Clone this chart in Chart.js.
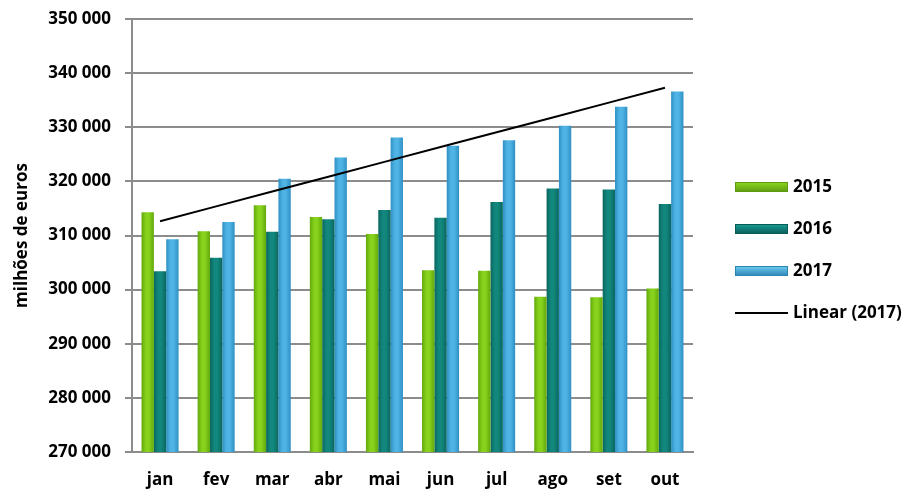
<!DOCTYPE html>
<html>
<head>
<meta charset="utf-8">
<script src="https://cdn.jsdelivr.net/npm/chart.js@4.4.1/dist/chart.umd.min.js"></script>
<style>
  body { margin: 0; background: #fff; }
</style>
</head>
<body>
<canvas id="myChart" width="912" height="491"></canvas>
<script>
var months = ['jan', 'fev', 'mar', 'abr', 'mai', 'jun', 'jul', 'ago', 'set', 'out'];
var v2015 = [314300, 310800, 315600, 313400, 310300, 303600, 303500, 298700, 298600, 300200];
var v2016 = [303400, 305900, 310700, 313000, 314700, 313300, 316200, 318700, 318500, 315800];
var v2017 = [309300, 312500, 320500, 324400, 328100, 326600, 327600, 330300, 333800, 336600];
var yMin = 270000, yMax = 350000, yStep = 10000;

var catPct = 0.66;

// least squares trend of the 2017 series, like Excel's "Linear (2017)"
function linearTrend(vals) {
    var n = vals.length, sx = 0, sy = 0, sxy = 0, sxx = 0;
    vals.forEach(function (v, i) { sx += i; sy += v; sxy += i * v; sxx += i * i; });
    var b = (n * sxy - sx * sy) / (n * sxx - sx * sx);
    var a = (sy - b * sx) / n;
    return vals.map(function (v, i) { return a + b * i; });
}

function fmt(v) {
    return String(v).replace(/\B(?=(\d{3})+(?!\d))/g, ' ');
}

// horizontal shading on each bar (edges darker, middle lighter)
function shade(edge, mid) {
    return function (context) {
        var chart = context.chart;
        var xs = chart.scales.x;
        if (!xs || context.type !== 'data') return mid;
        var bw = xs.width / months.length * catPct / 3;
        var left = xs.getPixelForValue(context.dataIndex) - 1.5 * bw + context.datasetIndex * bw;
        if (!isFinite(bw) || !isFinite(left) || bw <= 0) return mid;
        var g = chart.ctx.createLinearGradient(left, 0, left + bw, 0);
        g.addColorStop(0, edge);
        g.addColorStop(0.35, mid);
        g.addColorStop(0.6, mid);
        g.addColorStop(1, edge);
        return g;
    };
}

Chart.defaults.font.family = "'Open Sans', sans-serif";
Chart.defaults.font.weight = 'bold';
Chart.defaults.color = '#000';

var gridColor = '#8c8c8c';

// legend drawn at the right, same look as the original
var sideLegend = {
    id: 'sideLegend',
    afterDraw: function (chart) {
        var ctx = chart.ctx;
        ctx.save();
        ctx.font = "bold 17px 'Open Sans', sans-serif";
        ctx.textBaseline = 'middle';
        chart.data.datasets.forEach(function (ds, i) {
            var y = 187 + i * 42;
            if (ds.type === 'line') {
                ctx.strokeStyle = ds.borderColor;
                ctx.lineWidth = ds.borderWidth;
                ctx.beginPath();
                ctx.moveTo(735, y);
                ctx.lineTo(788, y);
                ctx.stroke();
            } else {
                var g = ctx.createLinearGradient(0, y - 5, 0, y + 5);
                g.addColorStop(0, ds.legendMid);
                g.addColorStop(1, ds.borderColor);
                ctx.fillStyle = g;
                ctx.fillRect(735, y - 5, 53, 10);
                ctx.strokeStyle = ds.borderColor;
                ctx.lineWidth = 1;
                ctx.strokeRect(735.5, y - 4.5, 52, 9);
            }
            ctx.fillStyle = '#000';
            ctx.fillText(ds.label, 793, y);
        });
        ctx.restore();
    }
};

var ctx = document.getElementById('myChart').getContext('2d');
var myChart = new Chart(ctx, {
    data: {
        labels: months,
        datasets: [
            {
                type: 'bar',
                label: '2015',
                data: v2015,
                backgroundColor: shade('#62a80c', '#86d21c'),
                legendMid: '#8fd81f',
                borderColor: '#5e9a10',
                borderWidth: 0,
                order: 1
            },
            {
                type: 'bar',
                label: '2016',
                data: v2016,
                backgroundColor: shade('#0a665f', '#12877d'),
                legendMid: '#1aa096',
                borderColor: '#095c56',
                borderWidth: 0,
                order: 1
            },
            {
                type: 'bar',
                label: '2017',
                data: v2017,
                backgroundColor: shade('#2f8fc4', '#4fb4e4'),
                legendMid: '#6fd0f2',
                borderColor: '#2d84b3',
                borderWidth: 0,
                order: 1
            },
            {
                type: 'line',
                label: 'Linear (2017)',
                data: linearTrend(v2017),
                borderColor: '#000',
                borderWidth: 2,
                pointRadius: 0,
                fill: false,
                order: 0
            }
        ]
    },
    options: {
        responsive: false,
        animation: false,
        layout: { padding: { top: 19, right: 219, left: 0, bottom: 0 } },
        datasets: {
            bar: { categoryPercentage: catPct, barPercentage: 1.0 }
        },
        plugins: {
            legend: { display: false },
            tooltip: { enabled: false }
        },
        scales: {
            x: {
                grid: { display: false },
                border: { display: true, color: gridColor, width: 2 },
                ticks: { font: { size: 17 }, padding: 10 },
                afterFit: function (scale) { scale.height = 39; }
            },
            y: {
                min: yMin,
                max: yMax,
                ticks: {
                    stepSize: yStep,
                    font: { size: 17 },
                    padding: 14,
                    callback: function (v) { return fmt(v); }
                },
                grid: { color: gridColor, lineWidth: 2, tickLength: 7 },
                border: { display: true, color: gridColor, width: 2 },
                title: {
                    display: true,
                    text: 'milhões de euros',
                    font: { size: 17 },
                    padding: { top: 12, bottom: 0 }
                },
                afterFit: function (scale) {
                    scale.width = 132;
                    scale.paddingTop = 0;
                    scale.paddingBottom = 0;
                }
            }
        }
    },
    plugins: [sideLegend]
});
</script>
</body>
</html>
